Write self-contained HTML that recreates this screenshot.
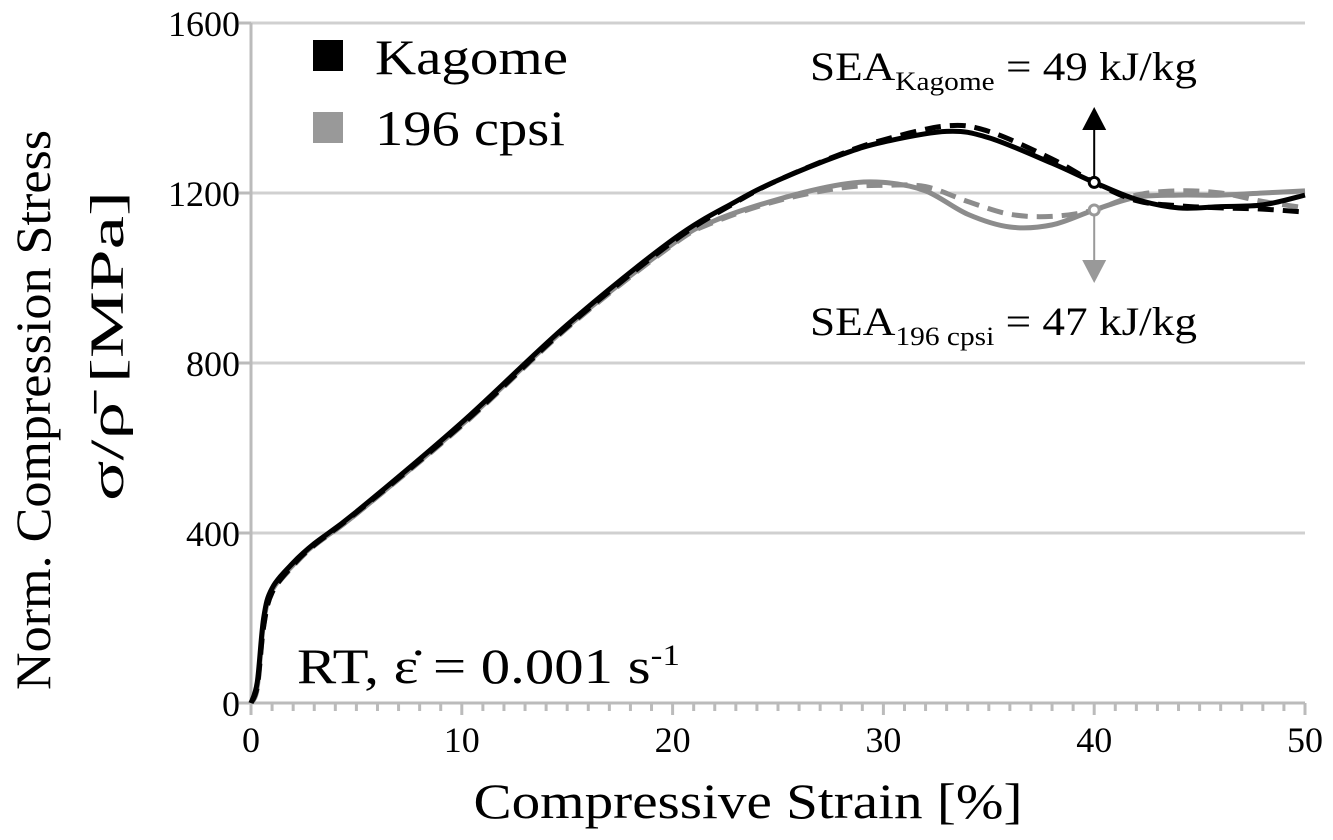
<!DOCTYPE html>
<html><head><meta charset="utf-8"><style>
body{margin:0;background:#fff;}
svg{display:block;font-family:"Liberation Serif",serif;}
</style></head><body>
<svg id="chart" width="1333" height="840" viewBox="0 0 1333 840" xmlns="http://www.w3.org/2000/svg">
<g id="grid"></g>
<g id="axes"></g>
<g id="series"></g>
<text transform="translate(50,410) rotate(-90)" text-anchor="middle" font-size="50" textLength="560" lengthAdjust="spacingAndGlyphs">Norm. Compression Stress</text>
<text transform="translate(123,346) rotate(-90)" text-anchor="middle" font-size="48" textLength="310" lengthAdjust="spacingAndGlyphs">σ/ρ̄ [MPa]</text>
<text x="748" y="818" text-anchor="middle" font-size="50" textLength="549" lengthAdjust="spacingAndGlyphs">Compressive Strain [%]</text>
<g>
<rect x="313" y="40" width="30" height="31" fill="#000"/>
<text x="375" y="74" font-size="50" textLength="193" lengthAdjust="spacingAndGlyphs">Kagome</text>
<rect x="313" y="112" width="30" height="31" fill="#999"/>
<text x="375" y="145" font-size="50" textLength="190" lengthAdjust="spacingAndGlyphs">196 cpsi</text>
</g>
<text x="297" y="683" font-size="50" textLength="383" lengthAdjust="spacingAndGlyphs">RT, ε̇ = 0.001 s<tspan dy="-18" font-size="30">-1</tspan></text>
<text x="810" y="80" font-size="40" textLength="387" lengthAdjust="spacingAndGlyphs">SEA<tspan dy="10" font-size="26">Kagome</tspan><tspan dy="-10"> = 49 kJ/kg</tspan></text>
<text x="810" y="335" font-size="40" textLength="387" lengthAdjust="spacingAndGlyphs">SEA<tspan dy="10" font-size="26">196 cpsi</tspan><tspan dy="-10"> = 47 kJ/kg</tspan></text>
<g id="arrows"></g>
</svg>
<script>
const xTicks=[0,10,20,30,40,50];
const yTicks=[0,400,800,1200,1600];
const strainK=[0,0.3,0.6,1,2,3,5,10,15,20,23,25,28,30,33,35,38,40,42,44,46,48,50];
const kagomeSolid=[0,50,200,270,330,375,450,660,890,1090,1180,1230,1290,1320,1345,1330,1270,1225,1185,1165,1168,1172,1195];
const kagomeDashed=[0,40,180,260,325,372,448,655,885,1085,1178,1230,1292,1325,1358,1345,1280,1225,1182,1170,1165,1162,1155];
const strainC=[0,0.3,0.6,1,2,3,5,10,15,20,22,25,28,30,32,34,36,38,40,42,44,46,48,50];
const cpsiSolid=[0,40,190,265,325,372,445,655,885,1080,1135,1185,1220,1225,1205,1150,1120,1125,1160,1190,1195,1195,1200,1205];
const cpsiDashed=[0,35,180,260,322,370,445,652,882,1078,1132,1182,1212,1218,1215,1180,1150,1145,1160,1195,1205,1200,1180,1165];
const seaStrain=40;
const ns="http://www.w3.org/2000/svg";
const X=v=>251+v*(1305-251)/50;
const Y=v=>703-v*(703-23)/1600;
function mk(tag,attrs,parent){const e=document.createElementNS(ns,tag);for(const k in attrs)e.setAttribute(k,attrs[k]);parent.appendChild(e);return e;}
const grid=document.getElementById('grid'),axes=document.getElementById('axes'),series=document.getElementById('series'),arrows=document.getElementById('arrows');
yTicks.forEach(t=>{
 if(t>0){const g=mk('line',{x1:X(0),x2:X(50),y1:Y(t),y2:Y(t),stroke:'#d0d0d0','stroke-width':3},grid);
 
 }
 const tk=mk('line',{x1:X(0)-12,x2:X(0),y1:Y(t),y2:Y(t),stroke:'#bbb','stroke-width':3},axes);
 
 
 const l=mk('text',{x:240,y:Y(t)+13,'text-anchor':'end','font-size':36},axes);l.textContent=t;
 
 
});
for(let i=0;i<=50;i++){const tk=mk('line',{x1:X(i),x2:X(i),y1:Y(0),y2:Y(0)+(i%10===0?12:8),stroke:'#bbb','stroke-width':3},axes);
 
 }
xTicks.forEach(t=>{const l=mk('text',{x:X(t),y:752,'text-anchor':'middle','font-size':36},axes);l.textContent=t;
 
 });
const ya=mk('line',{x1:X(0),x2:X(0),y1:Y(0),y2:Y(1600),stroke:'#bbb','stroke-width':3},axes);


const xa=mk('line',{x1:X(0),x2:X(50),y1:Y(0),y2:Y(0),stroke:'#bbb','stroke-width':3},axes);


function interp(xs,ys,x){for(let i=1;i<xs.length;i++){if(x<=xs[i]){const f=(x-xs[i-1])/(xs[i]-xs[i-1]);return ys[i-1]+f*(ys[i]-ys[i-1]);}}return ys[ys.length-1];}
function path(xs,ys,color,dash,name){
 const p=xs.map((x,i)=>[X(x),Y(ys[i])]);
 let d='M'+p[0][0]+','+p[0][1];
 for(let i=0;i<p.length-1;i++){const p0=p[Math.max(i-1,0)],p1=p[i],p2=p[i+1],p3=p[Math.min(i+2,p.length-1)];
  d+=` C${p1[0]+(p2[0]-p0[0])/6},${p1[1]+(p2[1]-p0[1])/6} ${p2[0]-(p3[0]-p1[0])/6},${p2[1]-(p3[1]-p1[1])/6} ${p2[0]},${p2[1]}`;}
 const e=mk('path',{d:d,fill:'none',stroke:color,'stroke-width':5,'stroke-dasharray':dash||'none','stroke-linejoin':'round'},series);
 
 
}
path(strainC,cpsiDashed,'#8c8c8c','16,9','series-196cpsi-dashed');
path(strainC,cpsiSolid,'#8c8c8c',null,'series-196cpsi-solid');
path(strainK,kagomeDashed,'#000','16,9','series-kagome-dashed');
path(strainK,kagomeSolid,'#000',null,'series-kagome-solid');
const yk=Y(interp(strainK,kagomeSolid,seaStrain)),yc=Y(interp(strainC,cpsiSolid,seaStrain)),xs=X(seaStrain);
let a=mk('line',{x1:xs,x2:xs,y1:yk,y2:128,stroke:'#000','stroke-width':2},arrows);


a=mk('polygon',{points:`${xs-12},130 ${xs+12},130 ${xs},107`,fill:'#000'},arrows);


a=mk('circle',{cx:xs,cy:yk,r:5,fill:'#fff',stroke:'#000','stroke-width':3},arrows);


a=mk('line',{x1:xs,x2:xs,y1:yc,y2:262,stroke:'#999','stroke-width':2},arrows);


a=mk('polygon',{points:`${xs-12},260 ${xs+12},260 ${xs},283`,fill:'#999'},arrows);


a=mk('circle',{cx:xs,cy:yc,r:5,fill:'#fff',stroke:'#999','stroke-width':3},arrows);


</script>
</body></html>
